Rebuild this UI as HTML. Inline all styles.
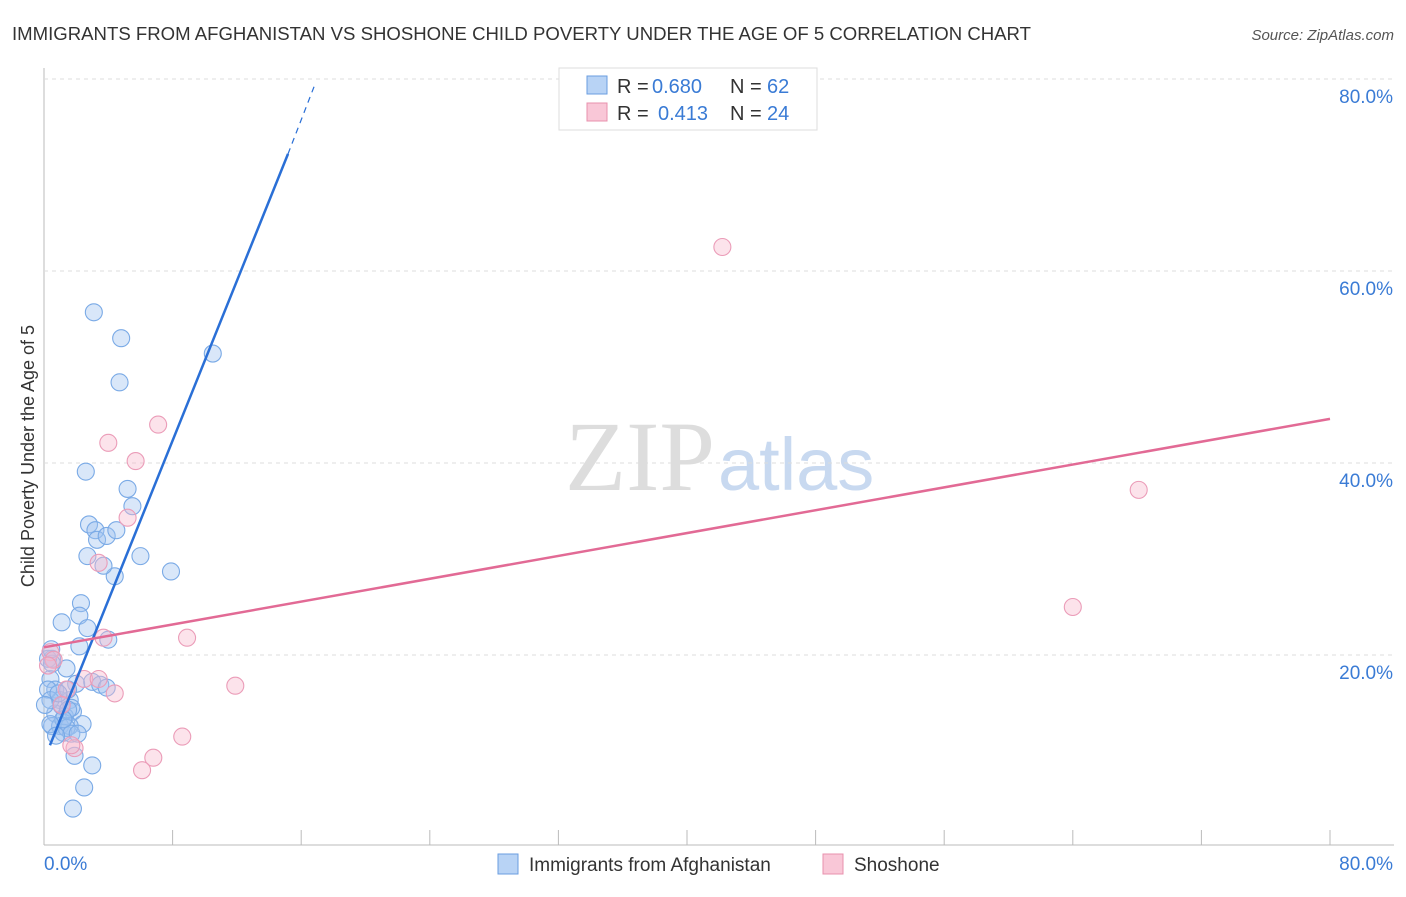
<!DOCTYPE html>
<html><head><meta charset="utf-8"><style>
body{margin:0;background:#fff;font-family:"Liberation Sans",sans-serif}
</style></head><body>
<svg id="c" width="1406" height="892" xmlns="http://www.w3.org/2000/svg" style="font-family:'Liberation Sans',sans-serif">
<text x="12" y="40" font-size="18" fill="#333" textLength="1019" lengthAdjust="spacingAndGlyphs">IMMIGRANTS FROM AFGHANISTAN VS SHOSHONE CHILD POVERTY UNDER THE AGE OF 5 CORRELATION CHART</text>
<text x="1394" y="40" font-size="15" fill="#555" font-style="italic" text-anchor="end">Source: ZipAtlas.com</text>
<text x="715" y="490" font-size="100" fill="#ddd" text-anchor="end" font-family="Liberation Serif">ZIP</text>
<text x="718" y="490" font-size="74" fill="#c8d9f0">atlas</text>
<text transform="translate(34,456) rotate(-90)" font-size="18" fill="#333" text-anchor="middle">Child Poverty Under the Age of 5</text>
<g id="grid"></g><g id="pts"></g><g id="lines"></g>
<g>
<rect x="559" y="68" width="258" height="62" fill="#fff" stroke="#ddd"/>
<rect x="587" y="76" width="20" height="18" fill="#b8d3f5" stroke="#6a9ee0"/>
<rect x="587" y="103" width="20" height="18" fill="#f9c7d7" stroke="#e890ad"/>
<text x="617" y="93" font-size="20" fill="#333">R =</text>
<text x="652" y="93" font-size="20" fill="#3a7bd5">0.680</text>
<text x="730" y="93" font-size="20" fill="#333">N =</text>
<text x="767" y="93" font-size="20" fill="#3a7bd5">62</text>
<text x="617" y="120" font-size="20" fill="#333">R =</text>
<text x="658" y="120" font-size="20" fill="#3a7bd5">0.413</text>
<text x="730" y="120" font-size="20" fill="#333">N =</text>
<text x="767" y="120" font-size="20" fill="#3a7bd5">24</text>
</g>
<g>
<rect x="498" y="854" width="20" height="20" fill="#b8d3f5" stroke="#6a9ee0"/>
<text x="529" y="871" font-size="19" fill="#333">Immigrants from Afghanistan</text>
<rect x="823" y="854" width="20" height="20" fill="#f9c7d7" stroke="#e890ad"/>
<text x="854" y="871" font-size="19" fill="#333">Shoshone</text>
</g>
</svg>
<script>
const yTicks=[20,40,60,80];
const xTickLabels=["0.0%","80.0%"];
const blueX=[3.1,4.8,4.7,10.5,2.6,5.2,5.5,2.8,3.2,3.3,3.9,4.5,2.7,6.0,4.4,7.9,3.7,2.3,2.2,1.1,2.7,4.0,2.2,1.4,0.5,0.4,0.7,1.0,2.0,3.0,3.5,3.9,1.6,1.8,1.3,2.4,0.7,0.5,1.0,1.6,1.2,1.4,1.7,2.1,0.25,0.4,0.25,0.5,1.5,1.7,1.1,1.5,1.9,3.0,2.5,1.8,0.45,0.9,0.06,1.2,0.4,0.75];
const blueY=[55.7,53.0,48.4,51.4,39.1,37.3,35.5,33.6,33.0,32.0,32.4,33.0,30.3,30.3,28.2,28.7,29.3,25.4,24.1,23.4,22.8,21.6,20.9,18.6,19.6,17.5,16.4,15.3,17.0,17.2,16.9,16.6,15.3,14.1,13.6,12.8,13.9,12.6,12.6,12.6,11.9,12.4,11.8,11.8,16.4,15.3,19.6,19.1,16.4,14.5,14.7,14.3,9.5,8.5,6.2,4.0,20.6,16.0,14.8,13.3,12.8,11.6];
const pinkX=[42.2,68.1,64.0,7.1,4.0,5.7,5.2,3.4,8.9,3.7,11.9,8.6,6.8,6.1,1.9,1.7,4.4,2.5,0.4,0.6,0.25,1.4,3.4,1.1];
const pinkY=[62.5,37.2,25.0,44.0,42.1,40.2,34.3,29.6,21.8,21.8,16.8,11.5,9.3,8.0,10.3,10.6,16.0,17.5,20.3,19.5,18.9,16.4,17.5,14.8];
const blueLine=[0.37,10.6,15.18,72.2,16.8,79.2];
const pinkLine=[0,20.8,80,44.6];
const X=v=>44+v/80*1286, Y=v=>847-v*9.6;
const NS="http://www.w3.org/2000/svg";
function mk(t,a,p){const e=document.createElementNS(NS,t);for(const k in a)e.setAttribute(k,a[k]);p.appendChild(e);return e;}
const g=document.getElementById('grid');
mk('line',{x1:44,y1:68,x2:44,y2:845,stroke:'#bbb'},g);
mk('line',{x1:44,y1:845,x2:1394,y2:845,stroke:'#bbb'},g);
for(let i=0;i<=10;i++){const l=mk('line',{x1:X(i*8),y1:830,x2:X(i*8),y2:845,stroke:'#bbb'},g);}
yTicks.forEach(v=>{const l=mk('line',{x1:44,y1:Y(v),x2:1394,y2:Y(v),stroke:'#ddd','stroke-dasharray':'4,4'},g);

const t=mk('text',{x:1393,y:Y(v)+24,'font-size':19,fill:'#3a7bd5','text-anchor':'end'},g);t.textContent=v.toFixed(1)+'%';
});
const t0=mk('text',{x:44,y:870,'font-size':19,fill:'#3a7bd5'},g);t0.textContent=xTickLabels[0];

const t1=mk('text',{x:1393,y:870,'font-size':19,fill:'#3a7bd5','text-anchor':'end'},g);t1.textContent=xTickLabels[1];

const p=document.getElementById('pts');
blueX.forEach((x,i)=>{const c=mk('circle',{cx:X(x),cy:Y(blueY[i]),r:8.5,fill:'rgba(160,196,240,0.4)',stroke:'#7aaae6','stroke-width':1.1},p);
});
pinkX.forEach((x,i)=>{const c=mk('circle',{cx:X(x),cy:Y(pinkY[i]),r:8.5,fill:'rgba(247,185,205,0.4)',stroke:'#eb9cb8','stroke-width':1.1},p);
});
const L=document.getElementById('lines');
const b1=mk('line',{x1:X(blueLine[0]),y1:Y(blueLine[1]),x2:X(blueLine[2]),y2:Y(blueLine[3]),stroke:'#2a6fd6','stroke-width':2.5},L);

const b2=mk('line',{x1:X(blueLine[2]),y1:Y(blueLine[3]),x2:X(blueLine[4]),y2:Y(blueLine[5]),stroke:'#2a6fd6','stroke-width':1.2,'stroke-dasharray':'6,5'},L);

const pl=mk('line',{x1:X(pinkLine[0]),y1:Y(pinkLine[1]),x2:X(pinkLine[2]),y2:Y(pinkLine[3]),stroke:'#e26a95','stroke-width':2.5},L);

</script>
</body></html>
